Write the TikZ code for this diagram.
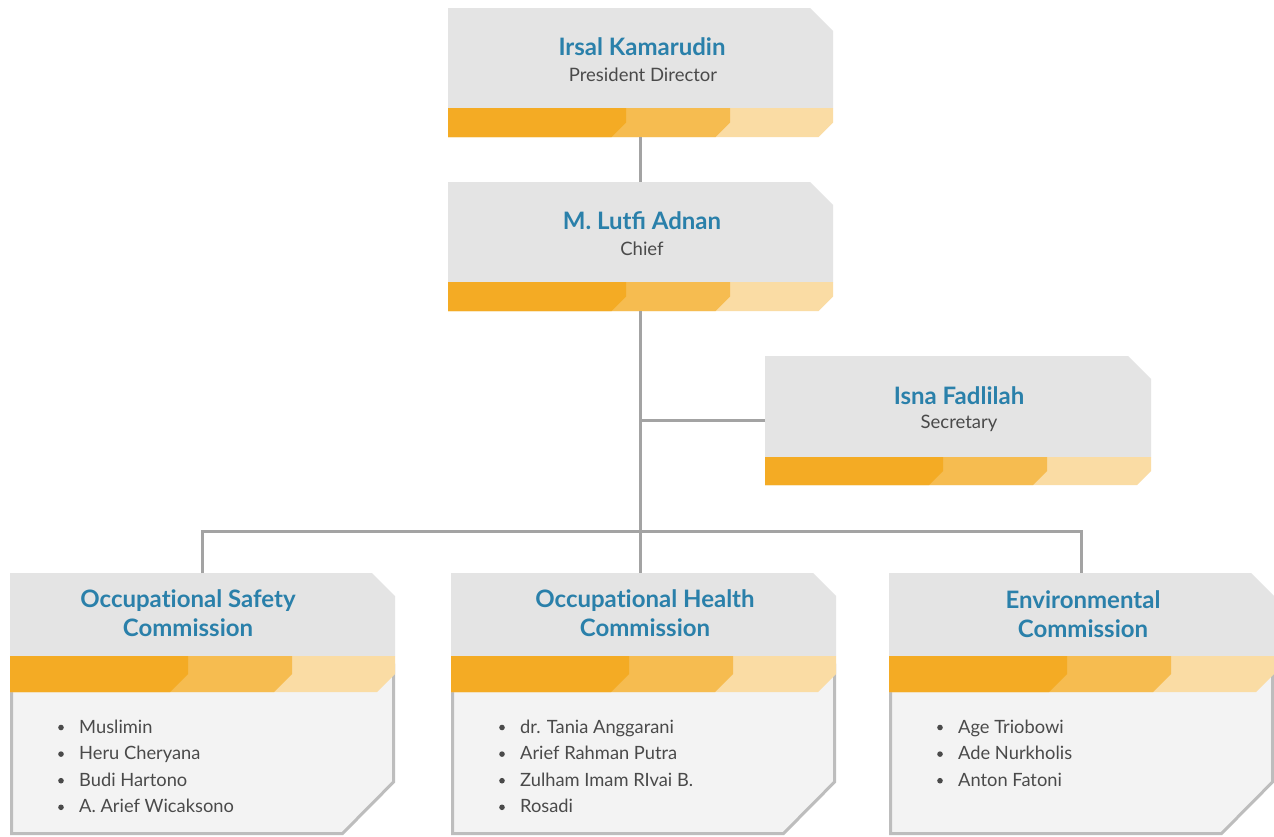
\documentclass[tikz,border=0pt]{standalone}
\usepackage{fontspec}
\setmainfont{Lato}
\definecolor{cardgray}{HTML}{E4E4E4}
\definecolor{stripeA}{HTML}{F4AB24}
\definecolor{stripeB}{HTML}{F6BC50}
\definecolor{stripeC}{HTML}{FADCA4}
\definecolor{bodyfill}{HTML}{F3F3F3}
\definecolor{bodyline}{HTML}{BDBDBD}
\definecolor{titleblue}{HTML}{2A80AA}
\definecolor{subgray}{HTML}{4A4A4A}
\definecolor{conngray}{HTML}{A3A3A3}
\tikzset{
  titletext/.style={font=\fontsize{24}{28}\selectfont\bfseries, text=titleblue, inner sep=0pt, anchor=base},
  subtext/.style={font=\fontsize{18.5}{22}\selectfont, text=subgray, inner sep=0pt, anchor=base},
  itemtext/.style={font=\fontsize{18.3}{22}\selectfont, text=subgray, inner sep=0pt, anchor=base west},
  conn/.style={draw=conngray, line width=3pt},
  bodybox/.style={fill=bodyfill, draw=bodyline, line width=3pt},
}
% name, left, top, width, grayH, stripeH
\newcommand\orgcard[6]{%
  \pgfmathsetmacro\cdL{#2}%
  \pgfmathsetmacro\cdR{#2+#4}%
  \pgfmathsetmacro\cdT{#3}%
  \pgfmathsetmacro\cdG{#3+#5}%
  \pgfmathsetmacro\cdB{#3+#5+#6}%
  \pgfmathsetmacro\cdH{#6/2}%
  \fill[cardgray] (\cdL,\cdT) -- (\cdR-23,\cdT) -- (\cdR,\cdT+23) -- (\cdR,\cdG) -- (\cdL,\cdG) -- cycle;
  \fill[stripeC] (\cdL,\cdG) -- (\cdR,\cdG) -- (\cdR,\cdB-\cdH) -- (\cdR-\cdH,\cdB) -- (\cdL,\cdB) -- cycle;
  \fill[stripeB] (\cdL,\cdG) -- (\cdL+282,\cdG) -- (\cdL+282,\cdB-\cdH) -- (\cdL+282-\cdH,\cdB) -- (\cdL,\cdB) -- cycle;
  \fill[stripeA] (\cdL,\cdG) -- (\cdL+178,\cdG) -- (\cdL+178,\cdB-\cdH) -- (\cdL+178-\cdH,\cdB) -- (\cdL,\cdB) -- cycle;
  \node[inner sep=0pt, outer sep=0pt, minimum width=#4pt, minimum height=\cdB-\cdT, anchor=north west] (#1) at (\cdL,\cdT) {};
}
% left, top, width
\newcommand\orgbody[3]{%
  \pgfmathsetmacro\bdL{#1+1.5}%
  \pgfmathsetmacro\bdR{#1+#3-1.5}%
  \filldraw[bodybox] (\bdL,#2) -- (\bdR,#2) -- (\bdR,782) -- (\bdR-51,833.5) -- (\bdL,833.5) -- cycle;
}
\begin{document}
\begin{tikzpicture}[x=1pt,y=-1pt]
\useasboundingbox (0,0) rectangle (1274,836);
\fill[white] (0,0) rectangle (1274,836);

% cards
\orgcard{pd}{448}{8}{385}{100}{29}
\orgcard{chief}{448}{182}{385}{100}{29}
\orgcard{sec}{765}{356}{386}{101}{28}

\orgbody{10}{665}{385}
\orgbody{451}{665}{385}
\orgbody{889}{665}{385}
\orgcard{osc}{10}{573}{385}{83}{36}
\orgcard{ohc}{451}{573}{385}{83}{36}
\orgcard{env}{889}{573}{385}{83}{36}

% connectors
\coordinate (bus) at (641,531);
\draw[conn] (pd.south) -- (chief.north);
\draw[conn] (chief.south) -- (chief.south |- ohc.north);
\draw[conn] (sec.west) -- (sec.west -| chief.south);
\draw[conn] (osc.north) -- (osc.north |- bus) -- (env.north |- bus) -- (env.north);

% texts
\node[titletext] (pd-name) at (642,55) {Irsal Kamarudin};
\node[subtext] (pd-role) at (643,81) {President Director};
\node[titletext] (chief-name) at (642,229) {M. Lutfi Adnan};
\node[subtext] (chief-role) at (642,255) {Chief};
\node[titletext] (sec-name) at (959,404) {Isna Fadlilah};
\node[subtext] (sec-role) at (959,428) {Secretary};

\node[titletext] (osc-t1) at (188,607) {Occupat\kern0pt ional Safety};
\node[titletext] (osc-t2) at (188,636) {Commission};
\node[titletext] (ohc-t1) at (645,607) {Occupat\kern0pt ional Health};
\node[titletext] (ohc-t2) at (645,636) {Commission};
\node[titletext] (env-t1) at (1083,608) {Environmental};
\node[titletext] (env-t2) at (1083,637) {Commission};

\foreach \n [count=\i] in {Muslimin, Heru Cheryana, Budi Hartono, A. Arief Wicaksono} {
  \node[itemtext] (osc-\i) at (79,{733+26.6*(\i-1)}) {\n};
  \fill[subgray] (61,{727.5+26.6*(\i-1)}) circle (2.8);
}
\foreach \n [count=\i] in {dr. Tania Anggarani, Arief Rahman Putra, Zulham Imam RIvai B., Rosadi} {
  \node[itemtext] (ohc-\i) at (520,{733+26.6*(\i-1)}) {\n};
  \fill[subgray] (502,{727.5+26.6*(\i-1)}) circle (2.8);
}
\foreach \n [count=\i] in {Age Triobowi, Ade Nurkholis, Anton Fatoni} {
  \node[itemtext] (env-\i) at (958,{733+26.6*(\i-1)}) {\n};
  \fill[subgray] (940,{727.5+26.6*(\i-1)}) circle (2.8);
}
\end{tikzpicture}
\end{document}
